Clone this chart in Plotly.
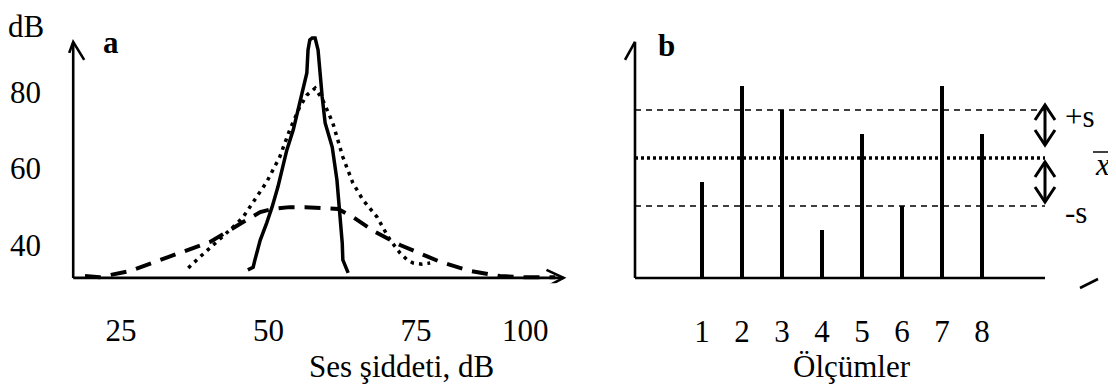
import plotly.graph_objects as go

# The page body adds an 8px margin, so the figure is 8px smaller and all
# reference pixel positions are shifted by OFF.
OFF = 8
W, H = 1116 - OFF, 387 - OFF
FONT = "Liberation Serif"
FS = 31

# ---------------- Panel a data (dB) ----------------
dashed_x = [18.9, 21.4, 26.5, 33.3, 40.1, 45.7, 48.6, 50.6, 53.6, 56.2, 58.7, 61.8,
            64.3, 68.1, 72.3, 79.1, 84.2, 89.2, 92.6, 98.6]
dashed_y = [31.9, 31.6, 33.2, 36.9, 40.8, 46.0, 48.6, 49.4, 49.9, 49.9, 49.7, 49.4,
            47.3, 43.4, 40.0, 35.6, 33.2, 31.9, 31.6, 31.6]

dotted_x = [36.4, 38.4, 44.0, 45.7, 49.7, 51.9, 53.6, 55.3, 56.5, 57.9, 59.2, 60.9,
            62.6, 64.3, 66.0, 68.4, 70.6, 72.3, 73.5, 74.5, 76.0, 77.4]
dotted_y = [34.0, 36.9, 44.7, 47.3, 56.5, 63.0, 70.1, 76.1, 79.2, 81.0, 77.9, 71.9,
            63.0, 56.2, 51.8, 47.3, 41.3, 37.9, 36.1, 35.3, 35.0, 35.3]

solid_x = [46.5, 47.4, 47.7, 48.6, 49.7, 50.6, 51.6, 53.1, 54.2, 55.3, 55.8, 56.5,
           56.7, 57.0, 57.4, 57.9, 58.4, 58.7, 59.1, 59.6, 60.8, 61.6, 62.1, 62.5,
           62.6, 63.3, 63.5]
solid_y = [33.5, 34.2, 36.1, 41.3, 45.8, 49.9, 55.2, 64.8, 70.1, 77.1, 80.0, 85.0,
           91.0, 93.6, 94.1, 94.1, 91.0, 85.0, 78.7, 71.9, 65.6, 57.0, 48.4, 40.5,
           36.1, 33.5, 32.7]

a_xtick_vals = [25, 50, 75, 93.5]
a_xtick_text = ["25", "50", "75", "100"]
a_ytick_vals = [40, 60, 80]
a_ytick_text = ["40", "60", "80"]
a_origin = (16.9, 31.4)
a_xaxis_end = 100.0
a_yaxis_end = 93.1

# ---------------- Panel b data ----------------
measure_idx = [1, 2, 3, 4, 5, 6, 7, 8]
measure_text = ["1", "2", "3", "4", "5", "6", "7", "8"]
measure_val = [55, 75, 70, 45, 65, 50, 75, 65]
mean_val = 60
s_val = 10
b_origin = (-0.675, 35)
b_xaxis_end = 9.575
b_yaxis_end = 84.2


def fx(px):
    return (px - OFF) / W


def fy(py):
    return 1 - (py - OFF) / H


fig = go.Figure()

# panel a curves
fig.add_trace(go.Scatter(x=dashed_x, y=dashed_y, mode="lines", xaxis="x", yaxis="y",
                         line=dict(color="black", width=4, dash="16px,10px"),
                         showlegend=False, hoverinfo="skip"))
fig.add_trace(go.Scatter(x=dotted_x, y=dotted_y, mode="lines", xaxis="x", yaxis="y",
                         line=dict(color="black", width=3.5, dash="3.5px,5px"),
                         showlegend=False, hoverinfo="skip"))
fig.add_trace(go.Scatter(x=solid_x, y=solid_y, mode="lines", xaxis="x", yaxis="y",
                         line=dict(color="black", width=3.5),
                         showlegend=False, hoverinfo="skip"))

# panel b bars
fig.add_trace(go.Bar(x=measure_idx, y=[v - b_origin[1] for v in measure_val],
                     base=b_origin[1], width=0.08, xaxis="x2", yaxis="y2",
                     marker=dict(color="black", line=dict(width=0)),
                     showlegend=False, hoverinfo="skip"))

shapes = []
LW = 2.6
# panel a axes
shapes.append(dict(type="line", xref="x", yref="y", x0=a_origin[0], x1=a_xaxis_end,
                   y0=a_origin[1], y1=a_origin[1], line=dict(color="black", width=LW)))
shapes.append(dict(type="line", xref="x", yref="y", x0=a_origin[0], x1=a_origin[0],
                   y0=a_origin[1], y1=a_yaxis_end, line=dict(color="black", width=LW)))
shapes.append(dict(type="path", xref="x", yref="y", xsizemode="pixel", ysizemode="pixel",
                   xanchor=a_origin[0], yanchor=a_yaxis_end,
                   path="M -4,-11 L 0,0 L 11,-18", line=dict(color="black", width=LW)))
shapes.append(dict(type="path", xref="x", yref="y", xsizemode="pixel", ysizemode="pixel",
                   xanchor=a_xaxis_end, yanchor=a_origin[1],
                   path="M -17,8 L 0,0 L -17,-9", line=dict(color="black", width=LW)))

# panel b axes
shapes.append(dict(type="line", xref="x2", yref="y2", x0=b_origin[0], x1=b_xaxis_end,
                   y0=b_origin[1], y1=b_origin[1], line=dict(color="black", width=LW)))
shapes.append(dict(type="line", xref="x2", yref="y2", x0=b_origin[0], x1=b_origin[0],
                   y0=b_origin[1], y1=b_yaxis_end, line=dict(color="black", width=LW)))
shapes.append(dict(type="path", xref="x2", yref="y2", xsizemode="pixel", ysizemode="pixel",
                   xanchor=b_origin[0], yanchor=b_yaxis_end,
                   path="M -10,-18 L 0,0", line=dict(color="black", width=LW)))
shapes.append(dict(type="path", xref="x2", yref="y2", xsizemode="pixel", ysizemode="pixel",
                   xanchor=b_xaxis_end, yanchor=b_origin[1],
                   path="M 35,-10 L 53,-1", line=dict(color="black", width=LW)))

# mean and +/- s lines
for yv, dash, w in [(mean_val + s_val, "6px,5px", 1.3), (mean_val - s_val, "6px,5px", 1.3),
                    (mean_val, "3px,3px", 3.5)]:
    shapes.append(dict(type="line", xref="x2", yref="y2", x0=b_origin[0], x1=b_xaxis_end,
                       y0=yv, y1=yv, line=dict(color="black", width=w, dash=dash)))

# double arrows
for p in ["M 0,53 L 0,13", "M -10,38 L 0,53 L 10,38", "M -10,28 L 0,13 L 10,28",
          "M 0,-4 L 0,-44", "M -10,-19 L 0,-4 L 10,-19", "M -10,-29 L 0,-44 L 10,-29"]:
    shapes.append(dict(type="path", xref="x2", yref="y2", xsizemode="pixel", ysizemode="pixel",
                       xanchor=b_xaxis_end, yanchor=mean_val, path=p,
                       line=dict(color="black", width=3)))

# overline for x-bar
shapes.append(dict(type="line", xref="paper", yref="paper", x0=fx(1093), x1=fx(1111),
                   y0=fy(152), y1=fy(152), line=dict(color="black", width=1.5)))

font = dict(family=FONT, size=FS, color="black")


def ann(text, px, py, **kw):
    d = dict(text=text, x=fx(px), y=fy(py), xref="paper", yref="paper",
             showarrow=False, font=font, xanchor="center", yanchor="middle")
    d.update(kw)
    return d


annotations = [
    ann("dB", 26, 26),
    ann("<b>a</b>", 111, 43),
    ann("<b>b</b>", 666, 45),
    ann("Ses şiddeti, dB", 401, 366),
    ann("Ölçümler", 852, 366),
    ann("+s", 1080, 117),
    ann("<i>x</i>", 1102, 165),
    ann("-s", 1076, 212),
]

axis_common = dict(showgrid=False, zeroline=False, showline=False, ticks="",
                   tickfont=font, fixedrange=True)

fig.update_layout(
    width=W, height=H, autosize=False,
    margin=dict(l=0, r=0, t=0, b=0),
    paper_bgcolor="white", plot_bgcolor="white",
    showlegend=False,
    xaxis=dict(domain=[fx(62), fx(575.3)], range=[15, 102], tickmode="array",
               tickvals=a_xtick_vals, ticktext=a_xtick_text, ticklabelstandoff=26,
               anchor="y", **axis_common),
    yaxis=dict(domain=[fy(283.25), fy(30.8)], range=[30, 96], tickmode="array",
               tickvals=a_ytick_vals, ticktext=a_ytick_text, ticklabelstandoff=20,
               anchor="x", **axis_common),
    xaxis2=dict(domain=[fx(622), fx(1102)], range=[-1, 11], tickmode="array",
                tickvals=measure_idx, ticktext=measure_text, ticklabelstandoff=8,
                anchor="y2", **axis_common),
    yaxis2=dict(domain=[fy(302), fy(30.8)], range=[30, 86.5],
                showticklabels=False, anchor="x2", **axis_common),
    shapes=shapes,
    annotations=annotations,
    bargap=0,
)

fig.write_html("out.html", config={"displayModeBar": False})
